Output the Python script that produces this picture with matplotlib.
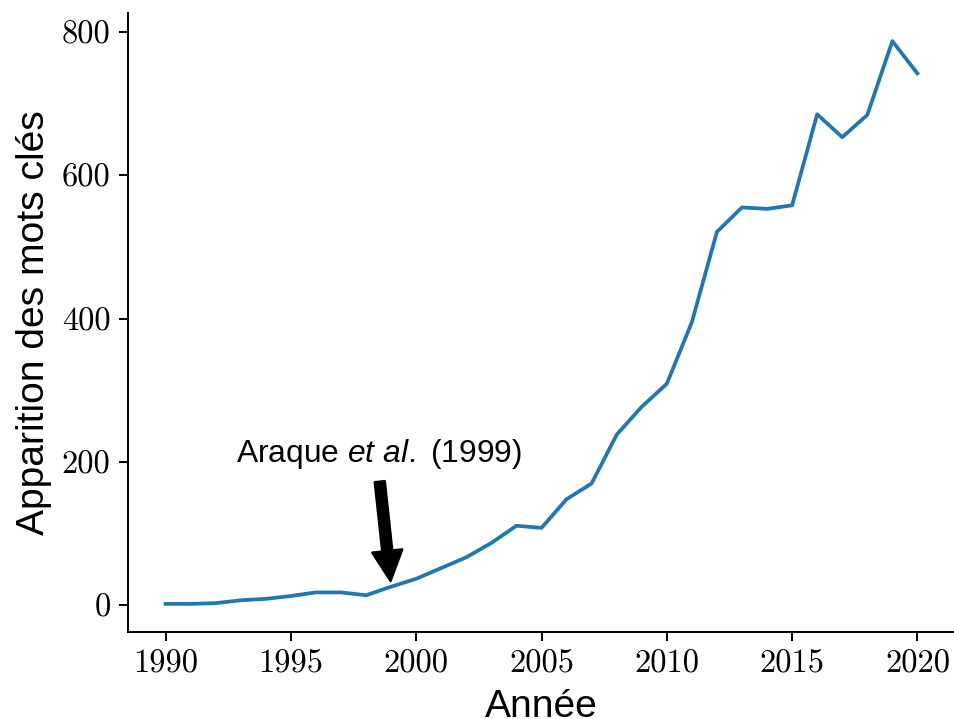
import numpy as np
import matplotlib
matplotlib.use("Agg")
import matplotlib.pyplot as plt

# data
annees = list(range(1990, 2021))
apparitions = [2, 2, 3, 7, 9, 13, 18, 18, 14, 26,
               37, 52, 67, 87, 111, 108, 148, 170, 238, 277,
               309, 395, 521, 555, 553, 558, 685, 653, 684, 787,
               742]
annot_annee = 1999
annot_texte = r"Araque $\mathit{et\ al.}$ (1999)"

plt.rcParams['font.family'] = ['Liberation Sans', 'DejaVu Sans']
plt.rcParams['mathtext.fontset'] = 'custom'
plt.rcParams['mathtext.rm'] = 'Liberation Sans'
plt.rcParams['mathtext.it'] = 'Liberation Sans:italic'

fig = plt.figure(figsize=(954 / 180, 719 / 180), dpi=180)
ax = fig.add_axes([128 / 954, 87 / 719, 827 / 954, 619 / 719])

ax.plot(annees, apparitions, color='C0', lw=1.5)

y_annot = apparitions[annees.index(annot_annee)]
ax.annotate(annot_texte, xy=(annot_annee, y_annot), xytext=(1998.5, 200),
            ha='center', fontsize=12.7,
            arrowprops=dict(facecolor='black', shrink=0.05))

ax.set_xlabel("Année", fontsize=15.6)
ax.set_ylabel("Apparition des mots clés", fontsize=15.6)
ax.set_xticks([1990, 1995, 2000, 2005, 2010, 2015, 2020])
ax.set_yticks([0, 200, 400, 600, 800])
ax.tick_params(labelsize=13, labelfontfamily='cmr10')

ax.spines['top'].set_visible(False)
ax.spines['right'].set_visible(False)

fig.savefig("out.png", dpi=180)
